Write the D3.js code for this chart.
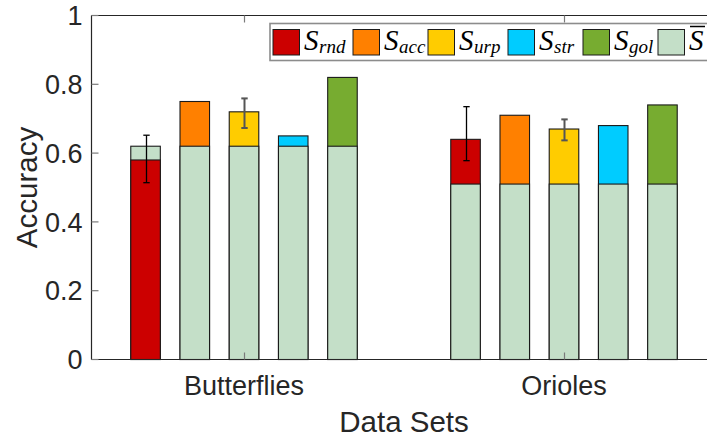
<!DOCTYPE html>
<html lang="en">
<head>
  <meta charset="UTF-8">
  <title>Accuracy by Data Set</title>
  <script src="https://d3js.org/d3.v7.min.js"></script>
  <style>
    body {
      margin: 0;
      background: #fff;
    }
    svg {
      display: block;
      background: #fff;
    }
    .tick-label {
      font-family: "Liberation Sans", Arial, sans-serif;
      font-size: 27px;
      fill: #262626;
    }
    .axis-title {
      font-family: "Liberation Sans", Arial, sans-serif;
      font-size: 29.5px;
      fill: #262626;
    }
    .legend-text {
      font-family: "Liberation Serif", "Times New Roman", serif;
      font-style: italic;
      font-size: 29px;
      fill: #000;
    }
  </style>
</head>
<body>

<svg width="707" height="437"></svg>

<script>
  // data
  const groups = ["Butterflies", "Orioles"];
  const seriesKeys = ["rnd", "acc", "urp", "str", "gol"];
  const baseValues = [0.62, 0.51];            // S-bar, drawn under every bar
  const rndValues = [0.58, 0.64];
  const accValues = [0.75, 0.71];
  const urpValues = [0.72, 0.67];
  const strValues = [0.65, 0.68];
  const golValues = [0.82, 0.74];
  const rndErrLow = [0.514, 0.578];
  const rndErrHigh = [0.652, 0.735];
  const urpErrLow = [0.673, 0.637];
  const urpErrHigh = [0.759, 0.698];
  const yTicks = [0, 0.2, 0.4, 0.6, 0.8, 1];

  const seriesValues = [rndValues, accValues, urpValues, strValues, golValues];
  const colors = ["#cc0000", "#ff8000", "#ffcc00", "#00ccff", "#77ac30"];
  const baseColor = "#c4dfc8";

  const svg = d3.select("svg");

  const xLim = [0.5234, 2.4766];
  const x = d3.scaleLinear().domain(xLim).range([91.5, 716.5]);
  const y = d3.scaleLinear().domain([0, 1]).range([359.5, 15.5]);

  const nBars = seriesKeys.length;
  const spacing = (nBars / (nBars + 1.5)) / nBars;
  const barW = spacing * 0.6;

  // flat list of bars
  const bars = [];
  groups.forEach((g, gi) => {
    seriesKeys.forEach((k, si) => {
      bars.push({
        gi: gi,
        si: si,
        xc: gi + 1 + (si - (nBars - 1) / 2) * spacing,
        value: seriesValues[si][gi],
        base: baseValues[gi]
      });
    });
  });

  const chart = svg.append("g");

  // each bar: taller piece first, shorter on top
  bars.forEach(b => {
    const pieces = [
      {v: b.value, fill: colors[b.si]},
      {v: b.base, fill: baseColor}
    ].sort((p, q) => q.v - p.v);
    pieces.forEach(p => {
      chart.append("rect")
        .attr("x", x(b.xc - barW / 2))
        .attr("y", y(p.v))
        .attr("width", x(b.xc + barW / 2) - x(b.xc - barW / 2))
        .attr("height", y(0) - y(p.v))
        .attr("fill", p.fill)
        .attr("stroke", "#1a1a1a")
        .attr("stroke-width", 1.1);
    });
  });

  // error bars
  const errData = [];
  groups.forEach((g, gi) => {
    errData.push({xc: gi + 1 - 2 * spacing, lo: rndErrLow[gi], hi: rndErrHigh[gi], color: "#000", w: 1.3});
    errData.push({xc: gi + 1, lo: urpErrLow[gi], hi: urpErrHigh[gi], color: "#555", w: 2});
  });
  const capHalf = 3.2;
  errData.forEach(e => {
    const ex = Math.round(x(e.xc)) + 0.5;
    const eg = chart.append("g").attr("stroke", e.color).attr("stroke-width", e.w);
    eg.append("line").attr("x1", ex).attr("x2", ex).attr("y1", y(e.lo)).attr("y2", y(e.hi));
    eg.append("line").attr("x1", ex - capHalf).attr("x2", ex + capHalf).attr("y1", y(e.lo)).attr("y2", y(e.lo));
    eg.append("line").attr("x1", ex - capHalf).attr("x2", ex + capHalf).attr("y1", y(e.hi)).attr("y2", y(e.hi));
  });

  // axes box (left, bottom, top; right edge falls outside the picture)
  const axisColor = "#262626";
  svg.append("line").attr("x1", x(xLim[0])).attr("x2", x(xLim[1])).attr("y1", y(0)).attr("y2", y(0))
    .attr("stroke", axisColor).attr("stroke-width", 1.2);
  svg.append("line").attr("x1", x(xLim[0])).attr("x2", x(xLim[1])).attr("y1", y(1)).attr("y2", y(1))
    .attr("stroke", axisColor).attr("stroke-width", 1.2);
  svg.append("line").attr("x1", x(xLim[0])).attr("x2", x(xLim[0])).attr("y1", y(0)).attr("y2", y(1))
    .attr("stroke", axisColor).attr("stroke-width", 1.2);

  // y ticks, pointing inwards
  yTicks.forEach(t => {
    svg.append("line")
      .attr("x1", x(xLim[0])).attr("x2", x(xLim[0]) + 7)
      .attr("y1", y(t)).attr("y2", y(t))
      .attr("stroke", "#7a7a7a").attr("stroke-width", 1.2);
    svg.append("text")
      .attr("class", "tick-label")
      .attr("x", x(xLim[0]) - 9)
      .attr("y", y(t))
      .attr("dy", "0.36em")
      .attr("text-anchor", "end")
      .text(d3.format("~g")(t));
  });

  // x ticks at group centres, bottom and top
  groups.forEach((g, gi) => {
    const gx = Math.round(x(gi + 1)) + 0.5;
    svg.append("line").attr("x1", gx).attr("x2", gx).attr("y1", y(0)).attr("y2", y(0) - 7)
      .attr("stroke", "#7a7a7a").attr("stroke-width", 1.2);
    svg.append("line").attr("x1", gx).attr("x2", gx).attr("y1", y(1)).attr("y2", y(1) + 7)
      .attr("stroke", "#7a7a7a").attr("stroke-width", 1.2);
    svg.append("text")
      .attr("class", "tick-label")
      .attr("x", x(gi + 1))
      .attr("y", 395)
      .attr("text-anchor", "middle")
      .text(g);
  });

  // axis titles
  svg.append("text")
    .attr("class", "axis-title")
    .attr("x", x(1.5))
    .attr("y", 431.5)
    .attr("text-anchor", "middle")
    .text("Data Sets");

  svg.append("text")
    .attr("class", "axis-title")
    .attr("transform", `translate(37,${(y(0) + y(1)) / 2}) rotate(-90)`)
    .attr("text-anchor", "middle")
    .text("Accuracy");

  // legend (swatch positions follow the reference layout)
  const legend = svg.append("g");
  legend.append("rect")
    .attr("x", 270).attr("y", 23.5)
    .attr("width", 460).attr("height", 37)
    .attr("fill", "#fff")
    .attr("stroke", "#8c8c8c").attr("stroke-width", 1.6);

  const legendItems = seriesKeys.map((k, i) => ({sub: k, color: colors[i]}))
    .concat([{sub: null, color: baseColor}]);
  const swatchX = [273, 353, 428, 508, 583, 658];

  legendItems.forEach((it, i) => {
    const lx = swatchX[i];
    legend.append("rect")
      .attr("x", lx).attr("y", 29.5)
      .attr("width", 26.5).attr("height", 25.5)
      .attr("fill", it.color)
      .attr("stroke", "#1a1a1a").attr("stroke-width", 1);
    const tx = lx + 31;
    const t = legend.append("text")
      .attr("class", "legend-text")
      .attr("x", tx)
      .attr("y", 50);
    t.append("tspan").text("S");
    if (it.sub) {
      t.append("tspan").attr("font-size", "19px").attr("dy", 3).attr("dx", 0.5).text(it.sub);
    } else {
      legend.append("line")
        .attr("x1", tx + 1).attr("x2", tx + 16)
        .attr("y1", 26.5).attr("y2", 26.5)
        .attr("stroke", "#000").attr("stroke-width", 1.5);
    }
  });
</script>

</body>
</html>
